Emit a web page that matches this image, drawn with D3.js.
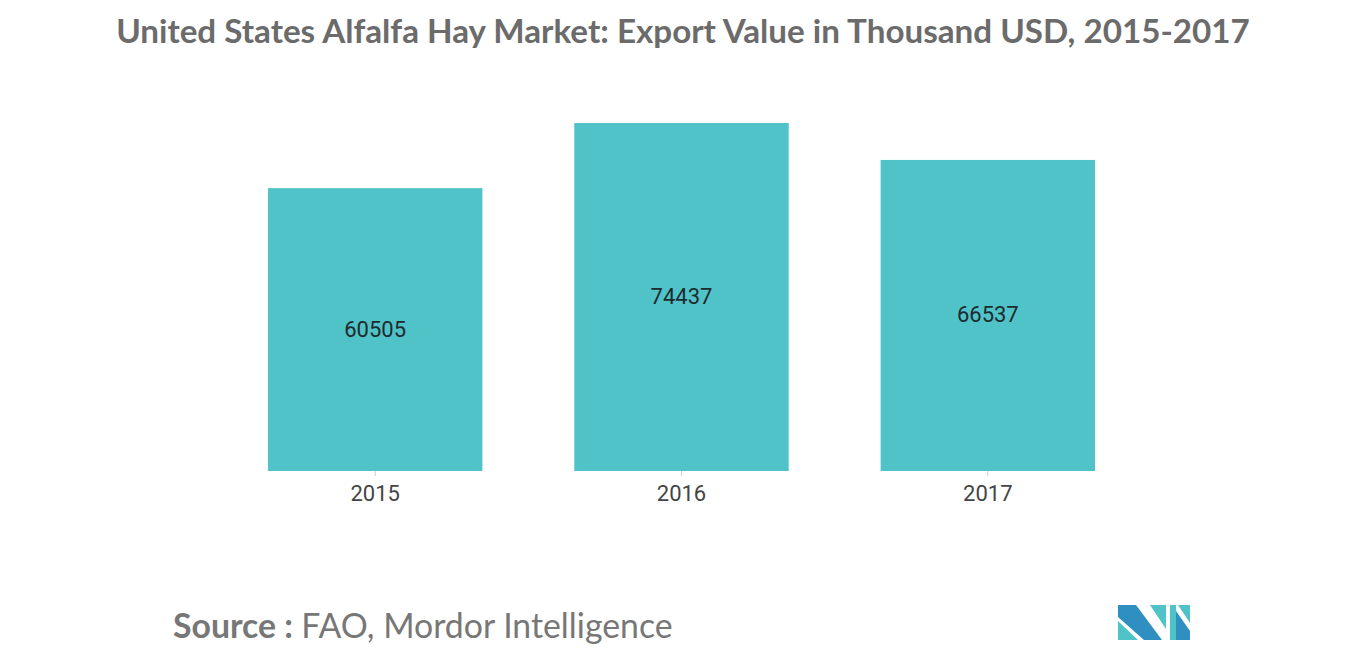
<!DOCTYPE html>
<html><head><meta charset="utf-8">
<script src="https://cdn.jsdelivr.net/npm/d3@7/dist/d3.min.js"></script>
<style>body{margin:0;background:#fff}svg{display:block}</style>
</head><body><svg id="c" width="1366" height="655"></svg>
<script>
const categories = ["2015","2016","2017"];
const values = [60505, 74437, 66537];
const svg = d3.select("#c");
const x = d3.scaleBand().domain(categories).range([222,1141]).paddingInner(0.3).paddingOuter(0.15);
const y = d3.scaleLinear().domain([0,74437]).range([471,123]);
svg.append("text").attr("x",683).attr("y",43).attr("text-anchor","middle")
  .attr("font-family","Lato, 'Open Sans', sans-serif").attr("font-weight","bold").attr("font-size",33.2)
  .attr("fill","#6b6b6b").text("United States Alfalfa Hay Market: Export Value in Thousand USD, 2015-2017");
svg.selectAll("rect.b").data(values).enter().append("rect")
  .attr("x",(d,i)=>x(categories[i])).attr("width",x.bandwidth())
  .attr("y",d=>y(d)).attr("height",d=>y(0)-y(d)).attr("fill","#50c3c9");
svg.selectAll("text.v").data(values).enter().append("text")
  .attr("x",(d,i)=>x(categories[i])+x.bandwidth()/2).attr("y",d=>(y(d)+y(0))/2+7)
  .attr("text-anchor","middle").attr("font-family","Roboto, sans-serif").attr("font-size",22)
  .attr("fill","#1e2a2e").text(d=>d);
const ax = svg.append("g").attr("transform","translate(0,471)").call(d3.axisBottom(x).tickSize(5).tickSizeOuter(0));
ax.select(".domain").remove();
ax.selectAll(".tick line").attr("stroke","#cccccc");
ax.selectAll(".tick text").attr("font-family","Roboto, sans-serif").attr("font-size",22).attr("fill","#444").attr("dy","1.0em");
const s = svg.append("text").attr("x",173).attr("y",638).attr("font-family","Lato, 'Open Sans', sans-serif").attr("font-size",33.8).attr("fill","#777");
s.append("tspan").attr("font-weight","bold").text("Source : ");
s.append("tspan").text("FAO, Mordor Intelligence");
const g = svg.append("g").attr("transform","translate(1118,605)");
g.append("polygon").attr("points","0,0 18,0 44,35 26,35 0,12").attr("fill","#2f8fc0");
g.append("polygon").attr("points","0,16 20,35 0,35").attr("fill","#50c3c9");
g.append("polygon").attr("points","32,0 48,0 48,24").attr("fill","#50c3c9");
g.append("polygon").attr("points","52,0 58,0 58,35 52,35").attr("fill","#50c3c9");
g.append("polygon").attr("points","58,6 72,26 72,35 58,35").attr("fill","#2f8fc0");
g.append("polygon").attr("points","60,0 72,0 72,18").attr("fill","#50c3c9");
</script></body></html>
